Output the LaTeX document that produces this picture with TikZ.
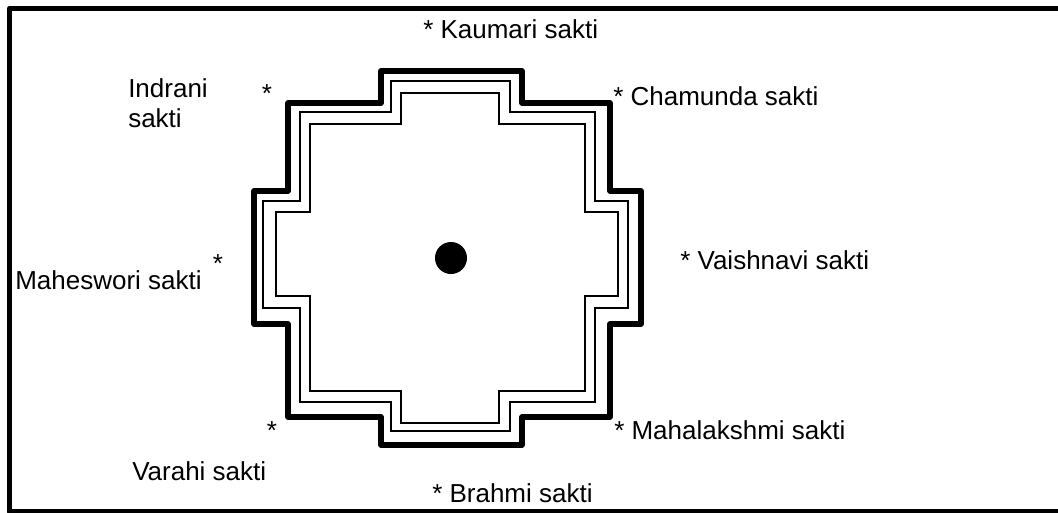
\documentclass[tikz,border=0pt]{standalone}
\usepackage{fontspec}
\setmainfont{Liberation Sans}
\usetikzlibrary{positioning}

\begin{document}
\begin{tikzpicture}[
  x=0.75pt, y=-0.75pt,
  every node/.style={inner sep=0pt, font=\fontsize{19.5}{22.5}\selectfont},
  lbl/.style={anchor=base west, align=left},
  star/.style={anchor=base},
  thickline/.style={line width=4pt, line join=round},
  thinline/.style={line width=1.5pt, line join=miter},
]
  \useasboundingbox (0,0) rectangle (1058,512);
  \clip (0,0) rectangle (1058,512);

  % frame
  \draw[line width=4pt, line join=round] (9.5,8.5) rectangle (1080,512);

  % stepped square, three outlines
  \draw[thickline] (381,71) -- (522,71) -- (522,103) -- (610,103) -- (610,191) -- (641,191)
    -- (641,324) -- (610,324) -- (610,417) -- (522,417) -- (522,445) -- (381,445)
    -- (381,417) -- (288,417) -- (288,324) -- (254,324) -- (254,191) -- (288,191)
    -- (288,103) -- (381,103) -- cycle;
  \draw[thinline] (391,81) -- (510,81) -- (510,112) -- (595,112) -- (595,201) -- (628,201)
    -- (628,308) -- (595,308) -- (595,402) -- (510,402) -- (510,431) -- (391,431)
    -- (391,402) -- (300,402) -- (300,308) -- (263,308) -- (263,201) -- (300,201)
    -- (300,112) -- (391,112) -- cycle;
  \draw[thinline] (401,93) -- (499,93) -- (499,124) -- (585,124) -- (585,212) -- (618,212)
    -- (618,296) -- (585,296) -- (585,391) -- (499,391) -- (499,423) -- (401,423)
    -- (401,391) -- (310,391) -- (310,296) -- (276,296) -- (276,212) -- (310,212)
    -- (310,124) -- (401,124) -- cycle;

  % bindu
  \fill (451,258) circle (16);

  % saktis
  \node (kaumari)  [lbl] at (423,38)  {* Kaumari sakti};
  \node (chamunda) [lbl] at (613,105) {* Chamunda sakti};
  \node (indrani)  [lbl] at (128,127) {Indrani\\sakti};
  \node (starI)    [star] at (267,102) {*};
  \node (vaishnavi)[lbl] at (680,269) {* Vaishnavi sakti};
  \node (starM)    [star] at (218,272) {*};
  \node (maheswori)[lbl] at (15,289)  {Maheswori sakti};
  \node (mahalaks) [lbl] at (614,439) {* Mahalakshmi sakti};
  \node (starV)    [star] at (272,439) {*};
  \node (varahi)   [lbl] at (132,480) {Varahi sakti};
  \node (brahmi)   [lbl] at (432,502) {* Brahmi sakti};
\end{tikzpicture}
\end{document}
